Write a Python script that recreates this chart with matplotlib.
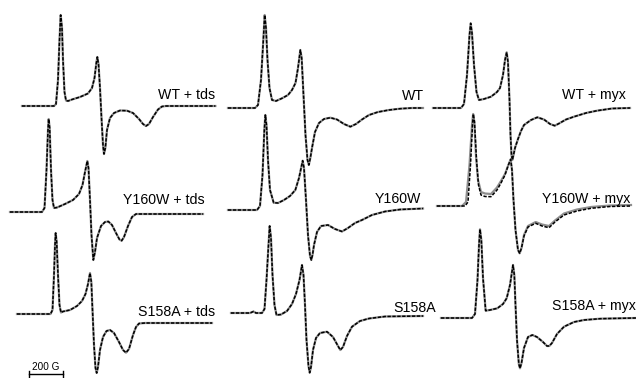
import matplotlib.pyplot as plt
import numpy as np

plt.rcParams['font.family'] = ['Liberation Sans', 'DejaVu Sans']

# EPR spectra, field in G (from trace start), signal in arbitrary units
# ---- tds column ----
wt_tds_B = [0, 192, 204, 216, 225, 232, 240, 246, 255, 264, 276, 300, 348, 396, 420, 435, 446, 452, 459,
            468, 477, 486, 492, 500, 510, 528, 552, 588, 630, 666, 702, 726, 744, 762, 786, 816, 840, 864, 1160]
wt_tds_S = [0, 0, 2, 26, 66, 91, 78, 46, 14, 5.5, 5, 6.5, 9, 12.5, 18, 28, 43, 49, 42,
            18, -12, -39, -48, -42, -24, -12, -7, -4.5, -4.7, -7, -13, -18, -20, -18, -11, -3.5, -0.5, 0, 0]

y160w_tds_B = [0, 192, 207, 219, 228, 232, 238, 246, 255, 264, 282, 330, 378, 414, 435, 450, 464, 471,
               480, 489, 500, 510, 522, 546, 570, 590, 612, 636, 657, 670, 684, 708, 732, 756, 780, 1158]
y160w_tds_S = [0, 0, 4, 42, 82, 93, 84, 42, 12, 4, 4.5, 8, 12, 18, 27, 40, 51, 44,
               12, -23, -48, -40, -26, -14, -10, -9.5, -13, -21, -27.5, -28.7, -25, -14, -5, -2, -2, -2]

s158a_tds_B = [0, 201, 213, 222, 228, 232, 238, 246, 255, 264, 276, 318, 360, 390, 411, 426, 438, 446,
               453, 462, 471, 478, 486, 498, 516, 537, 558, 582, 612, 636, 654, 672, 696, 714, 732, 768, 1170]
s158a_tds_S = [0, 0, 4, 39, 69, 81, 72, 39, 9, 1.5, 2.5, 4, 8, 13, 20, 30, 41, 32,
               4, -31, -54, -59, -53, -36, -23, -17, -16, -19, -28, -36, -38.7, -35, -21, -13, -9.5, -9, -9]

# ---- untreated column ----
wt_B = [0, 162, 180, 198, 212, 220, 228, 237, 249, 264, 288, 324, 360, 384, 405, 420, 434, 442, 453,
        465, 477, 485, 494, 504, 522, 546, 576, 614, 654, 696, 734, 768, 804, 846, 900, 966, 1032, 1104, 1170]
wt_S = [0, 0, 3, 28, 68, 93, 80, 48, 20, 8, 7, 9.7, 13, 18, 25, 40, 58, 50, 13,
        -27, -52, -57, -50, -40, -24, -15, -11, -9.7, -11.5, -16, -18.7, -16, -11.5, -7, -4, -2, -0.7, 0, 0]

y160w_B = [0, 174, 192, 207, 218, 224, 231, 240, 252, 274, 300, 336, 372, 404, 426, 448, 456, 468,
           480, 492, 500, 507, 516, 534, 558, 600, 642, 684, 720, 762, 804, 864, 942, 1032, 1170]
y160w_S = [0, 0, 4, 35, 80, 95, 85, 50, 20, 7.3, 7, 10, 14, 20, 32, 49.3, 42, 10,
           -25, -46, -50, -45, -35, -22, -16, -15, -19, -21.5, -18, -13, -10, -5, -1.5, 0.5, 1.5]

s158a_B = [0, 114, 135, 150, 186, 201, 213, 225, 232, 240, 249, 261, 273, 300, 336, 366, 390, 411, 426,
           435, 444, 453, 465, 472, 480, 492, 510, 534, 576, 612, 642, 656, 672, 696, 726, 774, 828, 924, 1152]
s158a_S = [0, 0, 1.5, 0, 0, 4, 33, 68, 87, 75, 38, 8, -2, -1.5, 2, 9, 19, 33, 48,
           38, 8, -27, -53, -59.7, -54, -37, -25, -20, -18.7, -24, -33, -37, -34, -23, -13.7, -8, -5.5, -3.5, -3]

# ---- myx column ----
wt_myx_B = [0, 168, 186, 204, 219, 226, 234, 246, 261, 276, 306, 348, 384, 402, 420, 432, 442, 450, 459,
            465, 471, 476, 483, 492, 510, 528, 546, 588, 626, 666, 702, 730, 756, 798, 846, 918, 984, 1074, 1182]
wt_myx_S = [0, 0, 4, 33, 73, 84.7, 75, 43, 16, 8, 9, 11.3, 16, 20, 33, 48, 55.7, 46, 8,
            -27, -47, -52, -47, -40, -31, -23, -17, -12, -9.3, -11.5, -16, -17.7, -15.5, -11.5, -8.7, -5, -2.7, -0.5, 0]

y160w_myx_B = [0, 168, 186, 201, 213, 218, 225, 237, 249, 264, 288, 324, 360, 384, 408, 426, 442, 450,
               459, 471, 486, 496, 507, 522, 546, 592, 630, 672, 708, 762, 840, 924, 1038, 1164]
y160w_myx_S = [0, 0, 4, 41, 81, 92, 84, 46, 21, 11, 9.5, 9.3, 16, 23, 31, 40, 46.7, 36,
               6, -24, -44, -47.3, -42, -30, -21, -17.3, -20, -21.7, -16, -9, -5, -2.3, -0.5, 0]
# simulation differs slightly for Y160W + myx
y160w_myx_sim_B = [0, 150, 174, 195, 210, 217, 224, 234, 246, 264, 288, 324, 360, 384, 408, 426, 442, 450,
                   459, 471, 486, 496, 507, 522, 546, 592, 630, 672, 708, 762, 840, 924, 1038, 1164]
y160w_myx_sim_S = [0, 0, 4, 41, 81, 92, 84, 50, 26, 14, 12.5, 12, 18.5, 25, 32, 40, 46.7, 36,
                   6, -24, -44, -47.3, -42, -29, -20, -16, -18.5, -20, -14.5, -7.5, -3.5, -1, 0.5, 1]

s158a_myx_B = [0, 186, 204, 219, 228, 234, 242, 252, 268, 294, 338, 372, 394, 414, 432, 440, 447, 456,
               467, 474, 483, 498, 522, 548, 576, 612, 636, 650, 666, 696, 738, 798, 858, 954, 1170]
s158a_myx_S = [0, 0, 4, 38, 73, 88.7, 78, 40, 7.3, 8, 9.7, 14, 19.7, 33, 53, 43, 13, -22,
               -46, -50.3, -45, -30, -19, -17, -19, -24, -28, -28, -25, -16, -8.7, -4, -2, -0.7, 0]

labels = ['WT + tds', 'Y160W + tds', 'S158A + tds',
          'WT', 'Y160W', 'S158A',
          'WT + myx', 'Y160W + myx', 'S158A + myx']

exp_data = [(wt_tds_B, wt_tds_S), (y160w_tds_B, y160w_tds_S), (s158a_tds_B, s158a_tds_S),
            (wt_B, wt_S), (y160w_B, y160w_S), (s158a_B, s158a_S),
            (wt_myx_B, wt_myx_S), (y160w_myx_B, y160w_myx_S), (s158a_myx_B, s158a_myx_S)]
sim_data = list(exp_data)
sim_data[7] = (y160w_myx_sim_B, y160w_myx_sim_S)

# layout (pixel positions of each trace start / baseline, and label anchors)
PX = 6.0  # G per pixel
trace_x0 = [22, 10, 17, 228, 228, 231, 433, 437, 441]
trace_base = [106, 212, 314, 108, 210, 313, 108, 206, 318]
label_pos = [(158, 95), (123, 200), (138, 311.5), (402, 96.5), (375, 199), (393.5, 307.5),
             (562, 95.5), (542, 199.3), (552, 306)]

fig = plt.figure(figsize=(6.36, 3.78), dpi=100)
ax = fig.add_axes([0, 0, 1, 1])
ax.set_xlim(0, 636 * PX)
ax.set_ylim(-378, 0)
ax.axis('off')

for i in range(9):
    xo = trace_x0[i] * PX
    yo = -trace_base[i]
    sb, ss = sim_data[i]
    eb, es = exp_data[i]
    ax.plot(np.array(sb) + xo, np.array(ss) + yo, color='#8f8f8f', lw=1.6, solid_joinstyle='round')
    ax.plot(np.array(eb) + xo, np.array(es) + yo, color='black', lw=1.1, dashes=(2.2, 1.0))
    lx, ly = label_pos[i]
    ax.text(lx * PX, -ly, labels[i], fontsize=10.2, ha='left', va='center')

# scale bar
bar_len = 200
bx = 29.3 * PX
ax.plot([bx, bx + bar_len], [-373.5, -373.5], color='black', lw=1.0)
ax.plot([bx, bx], [-370.5, -377], color='black', lw=1.0)
ax.plot([bx + bar_len, bx + bar_len], [-370.5, -377], color='black', lw=1.0)
ax.text(bx + bar_len / 2, -366.5, '200 G', fontsize=7.2, ha='center', va='center')

fig.savefig('out.png', dpi=100)
